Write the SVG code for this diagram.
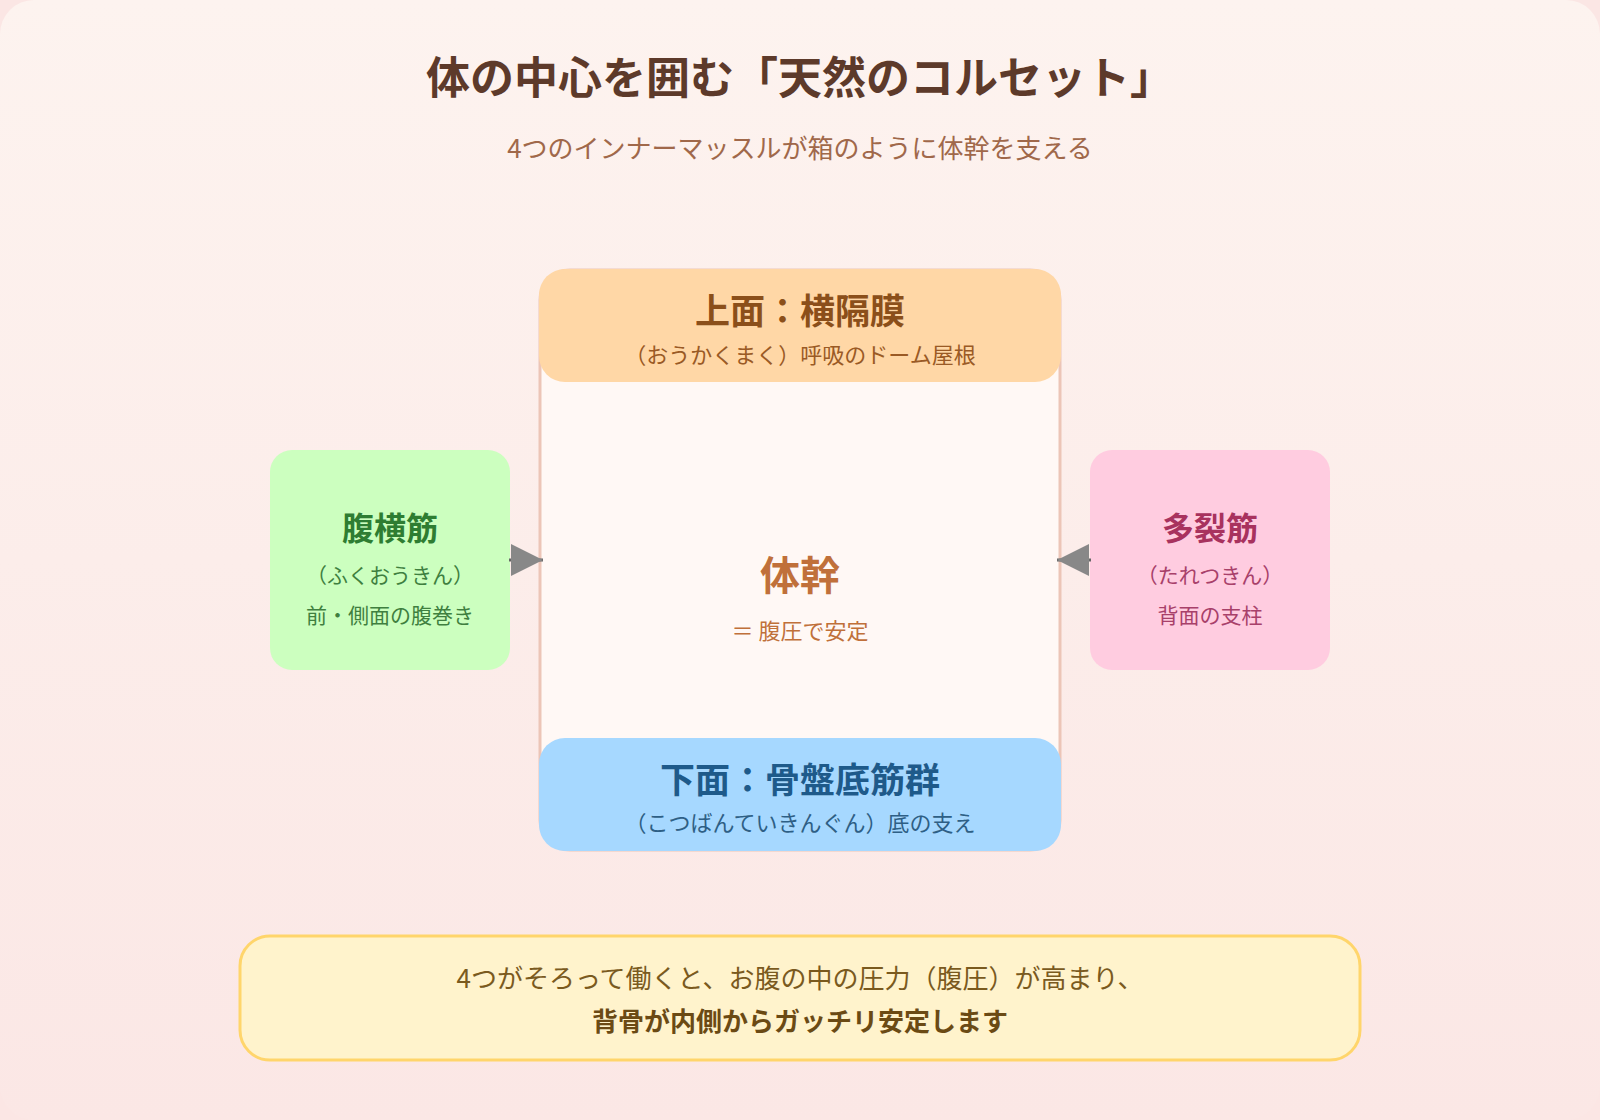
<svg xmlns="http://www.w3.org/2000/svg" width="1600" height="1120" viewBox="0 0 1600 1120">
<style>
  text { font-family: "Noto Sans CJK JP", "Noto Sans", "Liberation Sans", sans-serif; text-anchor: middle; }
  .title { font-size: 44px; font-weight: 700; fill: #5d3a2a; }
  .subtitle { font-size: 26px; fill: #a0684a; }
  .h-top { font-size: 35px; font-weight: 700; fill: #8b4f1a; }
  .s-top { font-size: 22px; fill: #9a5a25; }
  .h-bot { font-size: 35px; font-weight: 700; fill: #1e5a8a; }
  .s-bot { font-size: 22px; fill: #2e5f85; }
  .h-core { font-size: 40px; font-weight: 700; fill: #c0703a; }
  .s-core { font-size: 22px; fill: #c0703a; }
  .h-left { font-size: 32px; font-weight: 700; fill: #2e7d32; }
  .s-left { font-size: 21px; fill: #3f7f3f; }
  .h-right { font-size: 32px; font-weight: 700; fill: #a8325e; }
  .s-right { font-size: 21px; fill: #a8406a; }
  .note1 { font-size: 26px; fill: #7a5a1e; }
  .note2 { font-size: 26px; font-weight: 700; fill: #6b4a14; }
  .conn { stroke: #666666; stroke-width: 3; fill: none; marker-end: url(#arrow); }
</style>
<defs>
  <linearGradient id="bg" x1="0" y1="0" x2="0" y2="1">
    <stop offset="0" stop-color="#fdf3ef"/>
    <stop offset="1" stop-color="#fbe7e5"/>
  </linearGradient>
  <marker id="arrow" markerUnits="userSpaceOnUse" markerWidth="32" markerHeight="32" refX="32" refY="16" orient="auto">
    <path d="M0,0 L32,16 L0,32 Z" fill="#888888"/>
  </marker>
</defs>

<rect x="0" y="0" width="1600" height="1120" fill="#fbe6e4"/>
<rect x="0" y="0" width="1600" height="1120" rx="34" fill="url(#bg)"/>

<g id="header">
  <text class="title" x="800" y="94">体の中心を囲む「天然のコルセット」</text>
  <text class="subtitle" x="800" y="158">4つのインナーマッスルが箱のように体幹を支える</text>
</g>

<g id="core">
  <rect x="540" y="270" width="520" height="580" rx="30" fill="#fff8f5" stroke="#ecc5b7" stroke-width="3"/>
  <text class="h-core" x="800" y="590">体幹</text>
  <text class="s-core" x="800" y="639">＝ 腹圧で安定</text>
</g>

<g id="diaphragm">
  <rect x="539" y="269" width="522" height="113" rx="26" fill="#ffd7a6"/>
  <text class="h-top" x="800" y="324">上面：横隔膜</text>
  <text class="s-top" x="800" y="363">（おうかくまく）呼吸のドーム屋根</text>
</g>

<g id="pelvic-floor">
  <rect x="539" y="738" width="522" height="113" rx="26" fill="#a6d8ff"/>
  <text class="h-bot" x="800" y="793">下面：骨盤底筋群</text>
  <text class="s-bot" x="800" y="831">（こつばんていきんぐん）底の支え</text>
</g>

<g id="transversus">
  <rect x="270" y="450" width="240" height="220" rx="22" fill="#ccffbf"/>
  <text class="h-left" x="390" y="540">腹横筋</text>
  <text class="s-left" x="390" y="583">（ふくおうきん）</text>
  <text class="s-left" x="390" y="623">前・側面の腹巻き</text>
</g>

<g id="multifidus">
  <rect x="1090" y="450" width="240" height="220" rx="22" fill="#ffcce0"/>
  <text class="h-right" x="1210" y="540">多裂筋</text>
  <text class="s-right" x="1210" y="583">（たれつきん）</text>
  <text class="s-right" x="1210" y="623">背面の支柱</text>
</g>

<g id="connectors">
  <line class="conn" x1="509" y1="560" x2="543" y2="560"/>
  <line class="conn" x1="1091" y1="560" x2="1057" y2="560"/>
</g>

<g id="note">
  <rect x="240" y="936" width="1120" height="124" rx="30" fill="#fff3cc" stroke="#ffd56b" stroke-width="3"/>
  <text class="note1" x="800" y="988">4つがそろって働くと、お腹の中の圧力（腹圧）が高まり、</text>
  <text class="note2" x="800" y="1031">背骨が内側からガッチリ安定します</text>
</g>
</svg>
